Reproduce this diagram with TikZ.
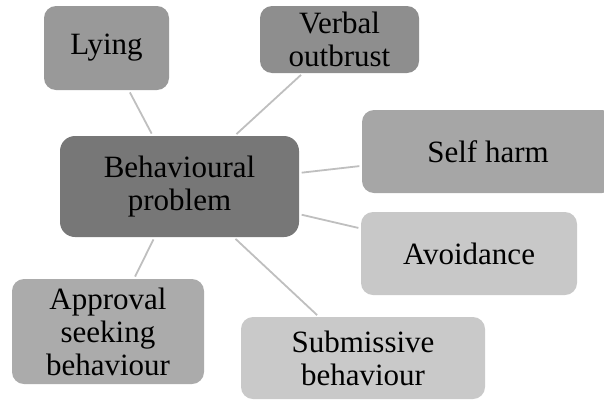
\documentclass[tikz,border=0pt]{standalone}
\usepackage{fontspec}
\setmainfont{Liberation Serif}
\begin{document}
\begin{tikzpicture}[x=1pt,y=-1pt,
  box/.style={draw=none, rounded corners=12pt, inner sep=0pt, align=center,
    font=\fontsize{31}{33}\selectfont, text=black},
  link/.style={draw=linkgray, line width=1.8pt, shorten <=2.5pt, shorten >=2.5pt}]
  \definecolor{linkgray}{HTML}{BFBFBF}
  \definecolor{cLying}{HTML}{999999}
  \definecolor{cVerbal}{HTML}{8E8E8E}
  \definecolor{cCentre}{HTML}{777777}
  \definecolor{cSelf}{HTML}{A6A6A6}
  \definecolor{cAvoid}{HTML}{C8C8C8}
  \definecolor{cApproval}{HTML}{ABABAB}
  \definecolor{cSubmit}{HTML}{C9C9C9}
  \clip (0,0) rectangle (604,399);

  \node[box, fill=cCentre, minimum width=239pt, minimum height=101pt, rounded corners=15pt]
    (centre) at (179.5,186.5) {Behavioural\\problem};
  \node[box, fill=cLying, minimum width=125pt, minimum height=84pt]
    (lying) at (106.5,48) {Lying};
  \node[box, fill=cVerbal, minimum width=159pt, minimum height=67pt]
    (verbal) at (339.5,39.5) {Verbal\\outbrust};
  \node[box, fill=cSelf, minimum width=252pt, minimum height=83pt]
    (self) at (488,151.5) {Self harm};
  \node[box, fill=cAvoid, minimum width=216pt, minimum height=83pt]
    (avoid) at (469,253.5) {Avoidance};
  \node[box, fill=cApproval, minimum width=192pt, minimum height=105pt]
    (approval) at (108,331.5) {Approval\\seeking\\behaviour};
  \node[box, fill=cSubmit, minimum width=244pt, minimum height=82pt]
    (submit) at (363,358) {Submissive\\behaviour};

  \draw[link] (lying) -- (centre);
  \draw[link] (verbal) -- (centre);
  \draw[link] (self) -- (centre);
  \draw[link] (avoid) -- (centre);
  \draw[link] (approval) -- (centre);
  \draw[link] (submit) -- (centre);
\end{tikzpicture}
\end{document}
